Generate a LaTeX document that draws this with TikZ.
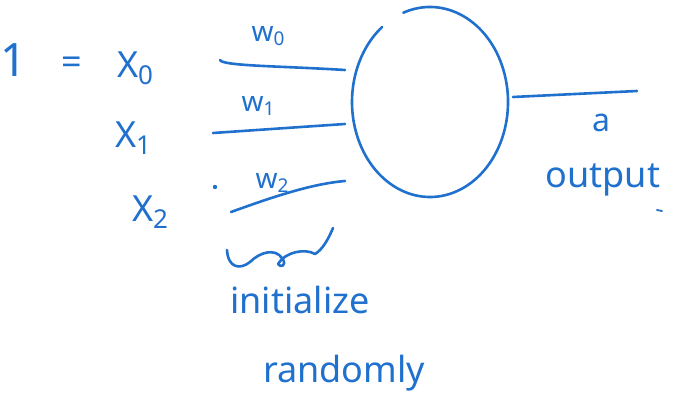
\documentclass[tikz,border=0pt]{standalone}
\usepackage{fontspec}
\setmainfont{Noto Sans}
\definecolor{pen}{RGB}{32,112,205}
\begin{document}
\begin{tikzpicture}[x=1pt,y=-1pt,
  ink/.style={draw=pen,line width=2.6pt,line cap=round,line join=round},
  lab/.style={text=pen,inner sep=0pt,font=\fontsize{36}{40}\selectfont},
  wlab/.style={text=pen,inner sep=0pt,font=\fontsize{28}{32}\selectfont}]
\useasboundingbox (0,0) rectangle (674,419);
% left labels
\node[lab,font=\fontsize{46}{50}\selectfont] (one) at (14,60) {1};
\node[lab] (eq) at (72,66) {=};
\node[lab] (x0) at (135,68) {X\raisebox{-0.35ex}{\fontsize{26}{30}\selectfont 0}};
\node[lab] (x1) at (133,138) {X\raisebox{-0.35ex}{\fontsize{26}{30}\selectfont 1}};
\node[lab] (x2) at (150,212) {X\raisebox{-0.35ex}{\fontsize{26}{30}\selectfont 2}};
% neuron
\coordinate (c) at (430,102);
\draw[ink] (c) ++(-110:78 and 95) arc[start angle=-110,end angle=232,x radius=78,y radius=95];
\coordinate (in0) at (345,70);
\coordinate (in1) at (345,124);
\coordinate (in2) at (345,181);
\coordinate (s0) at (220,60);
\coordinate (s1) at (213,133);
\coordinate (s2) at (231,212);
\draw[ink] (s0) .. controls (222,66) and (280,66) .. (in0);
\draw[ink] (s1) -- (in1);
\draw[ink] (s2) .. controls (270,198) and (310,184) .. (in2);
\node[wlab] (w0) at (268,36) {w\raisebox{-0.3ex}{\fontsize{19}{22}\selectfont 0}};
\node[wlab] (w1) at (258,106) {w\raisebox{-0.3ex}{\fontsize{19}{22}\selectfont 1}};
\node[wlab] (w2) at (272,183) {w\raisebox{-0.3ex}{\fontsize{19}{22}\selectfont 2}};
\fill[pen] (215,187) circle (2.2);
% output
\coordinate (o1) at (513,97);
\coordinate (o2) at (637,91);
\draw[ink] (o1) -- (o2);
\node[lab,font=\fontsize{32}{36}\selectfont] (a) at (601,123) {a};
\node[lab] (out) at (603,180) {output};
\draw[ink,line width=1.8pt] (657,210) -- (662,211);
% brace squiggle
\draw[ink] (227,250) .. controls (228,268) and (240,270) .. (250,262)
  .. controls (260,252) and (275,248) .. (282,258)
  .. controls (288,266) and (280,268) .. (278,264)
  .. controls (285,252) and (305,248) .. (315,254)
  .. controls (322,250) and (328,240) .. (333,228);
\node[lab] (init) at (300,300) {initialize};
\node[lab] (rand) at (344,373) {randomly};
\end{tikzpicture}
\end{document}
